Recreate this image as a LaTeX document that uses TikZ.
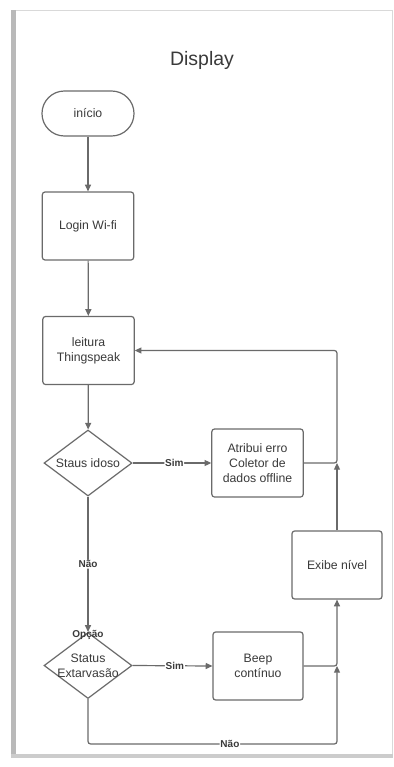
\documentclass[tikz,border=0pt]{standalone}
\usepackage{fontspec}
\setmainfont{Liberation Sans}
\usetikzlibrary{shapes.geometric,arrows.meta}
\definecolor{lncol}{HTML}{6A6A6A}
\definecolor{txcol}{HTML}{3A3A3A}
\tikzset{
  base/.style={draw=lncol, line width=0.9pt, text=txcol, font=\fontsize{9.2}{11.5}\selectfont, align=center, inner sep=0pt},
  stepbox/.style={base, rectangle, rounded corners=2pt, minimum width=68.5pt, minimum height=51pt},
  termbox/.style={base, rectangle, rounded corners=16.8pt, minimum width=69pt, minimum height=33.75pt},
  decbox/.style={base, diamond, minimum width=66pt, minimum height=49.5pt},
  dectext/.style={text=txcol, font=\fontsize{9.2}{11.5}\selectfont, align=center, inner sep=0pt},
  conn/.style={draw=lncol, line width=0.9pt, rounded corners=2pt, -{Triangle[length=5pt,width=4.5pt]}},
  plainconn/.style={draw=lncol, line width=0.9pt, rounded corners=2pt},
  lbl/.style={fill=white, text=txcol, font=\fontsize{7.5}{9}\selectfont\bfseries, inner sep=0.6pt},
}
\begin{document}
\begin{tikzpicture}[x=0.75pt,y=-0.75pt]
\useasboundingbox (0,0) rectangle (393,767);
\fill[white] (0,0) rectangle (393,767);
% panel
\draw[gray!30, line width=0.6pt] (15,10) -- (392,10) -- (392,755);
\fill[gray!55] (11,10) rectangle (16,757);
\fill[gray!40] (11,754) rectangle (393,758);
% title
\node[text=txcol, font=\fontsize{14.6}{17}\selectfont] (title) at (202,60) {Display};
% nodes
\node[termbox] (start) at (88,113.5) {início};
\node[stepbox] (login) at (88,226) {Login Wi-fi};
\node[stepbox] (leit) at (88.5,350.5) {leitura\\Thingspeak};
\node[decbox] (d1) at (88,463) {};
\node[dectext] (d1t) at (d1) {Staus idoso};
\node[stepbox] (atr) at (257.5,463) {Atribui erro\\Coletor de\\dados offline};
\node[stepbox, minimum width=67.5pt] (exibe) at (337,565) {Exibe nível};
\node[decbox] (d2) at (88,665.5) {};
\node[dectext] (d2t) at (d2) {Status\\Extarvasão};
\node[stepbox, minimum width=67.5pt] (beep) at (258,666) {Beep\\contínuo};
\coordinate (j1) at (337,463);
\coordinate (j2) at (337,666);
\coordinate (c2) at (88,744);
\coordinate (c3) at (337,744);
% connectors
\draw[conn] (start) -- (login);
\draw[conn] (login) -- (leit);
\draw[conn] (leit) -- (d1);
\draw[conn] (d1.east) -- node[lbl, pos=0.53] {Sim} (atr.west);
\draw[conn] (atr.east) -- (j1) |- (leit.east);
\draw[conn] (exibe.north) -- (j1);
\draw[conn] (d1.south) -- node[lbl, pos=0.5] {Não} (d2.north);
\node[lbl, fill=none] (opc) at ([yshift=-2.5pt]d2.north) {Opção};
\draw[conn] (d2.east) -- node[lbl, pos=0.53] {Sim} (beep.west);
\draw[conn] (beep.east) -- (j2) -- (exibe.south);
\draw[conn] (d2.south) -- (c2) -- node[lbl, pos=0.57] {Não} (c3) -- (j2);
\end{tikzpicture}
\end{document}
